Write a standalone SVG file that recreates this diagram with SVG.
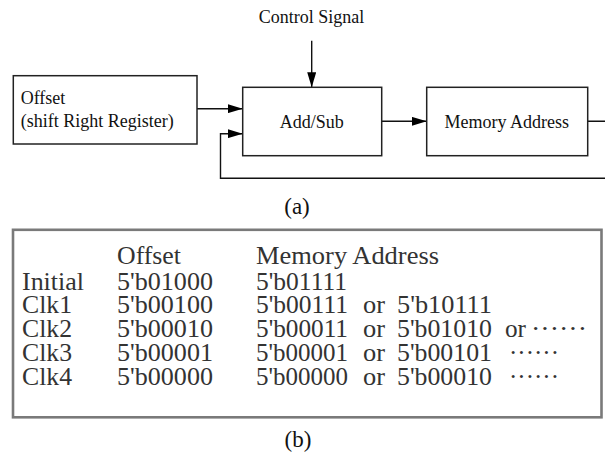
<svg xmlns="http://www.w3.org/2000/svg" width="605" height="459" viewBox="0 0 605 459">
<style>
.box{fill:#fff;stroke:#222;stroke-width:1.5}
.lbl{font-family:"Liberation Serif","Times New Roman",serif;font-size:18px;fill:#111}
.cap{font-family:"Liberation Serif","Times New Roman",serif;font-size:23px;fill:#111}
.t{font-family:"Liberation Serif","Times New Roman",serif;font-size:24.5px;fill:#333}
.conn{fill:none;stroke:#111;stroke-width:1.4}
</style>
<defs>
<marker id="arr" markerUnits="userSpaceOnUse" markerWidth="15" markerHeight="9" refX="15" refY="4.5" orient="auto">
<path d="M0,0 L15,4.5 L0,9 Z" fill="#000"/>
</marker>
</defs>
<rect width="605" height="459" fill="#fff"/>
<g id="connectors">
<path class="conn" d="M311.7,40.7 V87.3" marker-end="url(#arr)"/>
<path class="conn" d="M197,108.7 H242.7" marker-end="url(#arr)"/>
<path class="conn" d="M381.7,121.3 H426.7" marker-end="url(#arr)"/>
<path class="conn" d="M587.7,121.3 H612 V178.3 H220.5 V133.7 H242.7" marker-end="url(#arr)"/>
</g>
<g id="control-signal">
<text class="lbl" x="311.5" y="23.3" text-anchor="middle">Control Signal</text>
</g>
<g id="offset">
<rect class="box" x="13.3" y="75.7" width="183.7" height="68.3"/>
<text class="lbl" x="20.7" y="104">Offset</text>
<text class="lbl" x="20.7" y="127.3">(shift Right Register)</text>
</g>
<g id="addsub">
<rect class="box" x="242.7" y="87.3" width="139" height="68.4"/>
<text class="lbl" x="311.7" y="127.7" text-anchor="middle">Add/Sub</text>
</g>
<g id="memory">
<rect class="box" x="426.7" y="87.3" width="161" height="68.4"/>
<text class="lbl" x="506.7" y="127.7" text-anchor="middle">Memory Address</text>
</g>
<text class="cap" x="297" y="213.5" text-anchor="middle">(a)</text>
<g id="table">
<rect x="13" y="229.8" width="588.5" height="187.5" fill="#fff" stroke="#7a7a7a" stroke-width="2.6"/>
<text class="t" x="117" y="264" textLength="64" lengthAdjust="spacingAndGlyphs">Offset</text>
<text class="t" x="256" y="264" textLength="183" lengthAdjust="spacingAndGlyphs">Memory Address</text>
<text class="t" x="22" y="289.5" textLength="62" lengthAdjust="spacingAndGlyphs">Initial</text>
<text class="t" x="117" y="289.5" textLength="96" lengthAdjust="spacingAndGlyphs">5'b01000</text>
<text class="t" x="256" y="289.5" textLength="91" lengthAdjust="spacingAndGlyphs">5'b01111</text>
<text class="t" x="22" y="313.3" textLength="50" lengthAdjust="spacingAndGlyphs">Clk1</text>
<text class="t" x="117" y="313.3" textLength="96" lengthAdjust="spacingAndGlyphs">5'b00100</text>
<text class="t" x="256" y="313.3" textLength="92" lengthAdjust="spacingAndGlyphs">5'b00111</text>
<text class="t" x="363" y="313.3" textLength="22" lengthAdjust="spacingAndGlyphs">or</text>
<text class="t" x="397" y="313.3" textLength="95" lengthAdjust="spacingAndGlyphs">5'b10111</text>
<text class="t" x="22" y="337.1" textLength="50" lengthAdjust="spacingAndGlyphs">Clk2</text>
<text class="t" x="117" y="337.1" textLength="96" lengthAdjust="spacingAndGlyphs">5'b00010</text>
<text class="t" x="256" y="337.1" textLength="92" lengthAdjust="spacingAndGlyphs">5'b00011</text>
<text class="t" x="363" y="337.1" textLength="22" lengthAdjust="spacingAndGlyphs">or</text>
<text class="t" x="397" y="337.1" textLength="95" lengthAdjust="spacingAndGlyphs">5'b01010</text>
<text class="t" x="505" y="337.1" textLength="21" lengthAdjust="spacingAndGlyphs">or</text>
<text class="t" x="531" y="337.1" textLength="56" lengthAdjust="spacingAndGlyphs">······</text>
<text class="t" x="22" y="360.9" textLength="50" lengthAdjust="spacingAndGlyphs">Clk3</text>
<text class="t" x="117" y="360.9" textLength="96" lengthAdjust="spacingAndGlyphs">5'b00001</text>
<text class="t" x="256" y="360.9" textLength="92" lengthAdjust="spacingAndGlyphs">5'b00001</text>
<text class="t" x="363" y="360.9" textLength="22" lengthAdjust="spacingAndGlyphs">or</text>
<text class="t" x="397" y="360.9" textLength="95" lengthAdjust="spacingAndGlyphs">5'b00101</text>
<text class="t" x="509" y="360.9" textLength="50" lengthAdjust="spacingAndGlyphs">······</text>
<text class="t" x="22" y="384.7" textLength="50" lengthAdjust="spacingAndGlyphs">Clk4</text>
<text class="t" x="117" y="384.7" textLength="96" lengthAdjust="spacingAndGlyphs">5'b00000</text>
<text class="t" x="256" y="384.7" textLength="92" lengthAdjust="spacingAndGlyphs">5'b00000</text>
<text class="t" x="363" y="384.7" textLength="22" lengthAdjust="spacingAndGlyphs">or</text>
<text class="t" x="397" y="384.7" textLength="95" lengthAdjust="spacingAndGlyphs">5'b00010</text>
<text class="t" x="509" y="384.7" textLength="50" lengthAdjust="spacingAndGlyphs">······</text>
</g>
<text class="cap" x="298" y="447" text-anchor="middle">(b)</text>
</svg>
